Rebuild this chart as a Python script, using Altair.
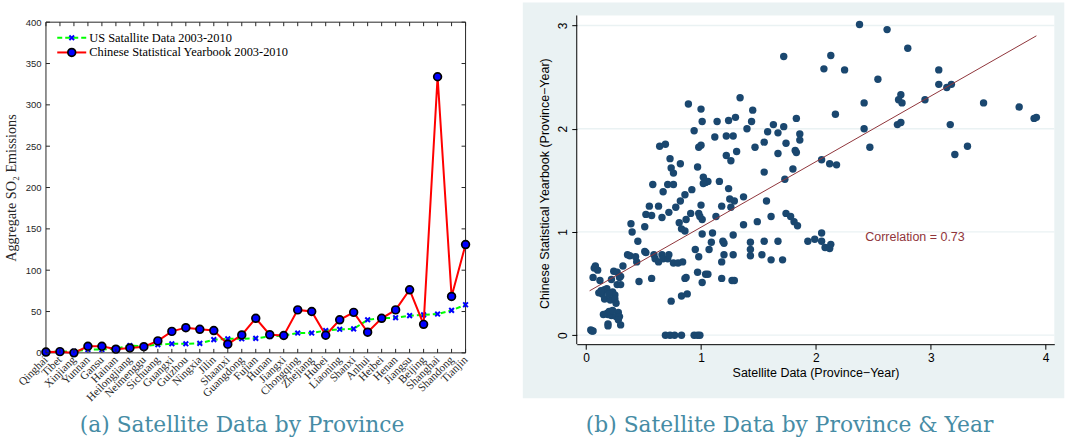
import altair as alt
import pandas as pd

# ---------------- Panel (a) data ----------------
provinces = ["Qinghai", "Tibet", "Xinjiang", "Yunnan", "Gansu", "Hainan", "Heilongjiang",
             "Neimenggu", "Sichuang", "Guangxi", "Guizhou", "Ningxia", "Jilin", "Shaanxi",
             "Guangdong", "Fujian", "Hunan", "Jiangxi", "Chongqing", "Zhejiang", "Hubei",
             "Liaoning", "Shanxi", "Anhui", "Heibei", "Henan", "Jiangsu", "Beijing",
             "Shanghai", "Shandong", "Tianjin"]
satellite = [1, 1.5, 2, 4, 4, 5, 8.8, 8, 10, 11, 11, 11.5, 16, 17, 17, 17.5, 20, 21, 24, 24,
             27, 28.5, 29, 40, 42, 42.5, 45, 46, 47, 51.4, 58.2]
yearbook = [1, 1.5, 0, 8, 8, 4.5, 6, 7.5, 14.5, 26, 30.5, 28.5, 27, 10.5, 21.7, 41.8, 22, 21,
            52, 50, 21.3, 40, 49, 25, 41.8, 52, 76.3, 34.5, 334, 68.3, 131]
y_ticks_a = [0, 50, 100, 150, 200, 250, 300, 350, 400]
legend_labels = ["US Satallite Data 2003-2010", "Chinese Statistical Yearbook 2003-2010"]
caption_a = "(a) Satellite Data by Province"

# ---------------- Panel (b) data ----------------
sat_x = [2.38, 2.62, 2.80, 1.72, 2.13, 2.07, 2.25, 3.07, 2.54, 3.07, 3.14, 3.18, 2.74, 2.72, 2.75,
         2.95, 3.46, 3.77, 3.90, 3.92, 2.42, 2.17, 2.71, 2.74, 3.17, 2.42, 2.47, 3.32, 3.21, 2.05,
         2.12, 2.18, 0.89, 1.00, 1.34, 1.01, 1.14, 1.24, 1.30, 1.45, 1.44, 1.40, 1.83, 1.63, 1.72,
         1.58, 1.67, 1.86, 1.86, 0.94, 1.12, 1.22, 1.28, 1.55, 1.74, 1.47, 0.64, 0.69, 0.98, 1.00,
         1.31, 1.82, 1.83, 1.67, 1.22, 1.26, 0.73, 0.82, 0.74, 0.76, 0.97, 1.80, 1.55, 1.02, 1.04,
         1.06, 1.02, 1.16, 1.73, 0.58, 0.71, 0.76, 1.24, 0.67, 0.92, 0.86, 1.37, 1.25, 1.29, 0.82,
         1.57,
         0.55, 0.52, 0.57, 0.63, 0.72, 0.66, 0.78, 0.81, 0.83, 0.86, 0.87, 0.91, 0.98, 1.00, 1.01,
         0.99, 1.13, 1.18, 1.26, 1.37, 1.49, 1.61, 1.74, 1.78, 1.81, 1.84,
         0.39, 0.40, 0.51, 0.45, 0.36, 0.38, 0.43, 0.44, 0.51, 0.52, 0.59, 0.60, 0.63, 0.66, 0.67,
         0.71, 0.72, 0.76, 0.80, 0.84, 0.86, 0.87, 0.88, 0.83, 0.74, 0.46, 0.57, 0.95, 0.98, 0.97,
         1.01, 1.04, 1.06, 1.01, 1.07, 1.09, 1.10, 1.18, 1.18, 1.19, 1.20, 1.20, 1.28, 1.28, 1.27,
         1.29, 1.43, 1.43, 1.43, 1.53, 1.55, 1.61, 1.67, 1.71, 1.93, 1.99, 2.05, 2.05, 2.08, 2.12,
         2.13,
         0.04, 0.05, 0.06, 0.06, 0.07, 0.08, 0.10, 0.12, 0.11, 0.14, 0.16, 0.18, 0.16, 0.18, 0.19,
         0.19, 0.19, 0.22, 0.21, 0.23, 0.22, 0.24, 0.27, 0.29, 0.30, 0.32, 0.25, 0.25, 0.26, 0.28,
         0.26, 0.29, 0.28, 0.30, 0.27, 0.30, 0.20, 0.23, 0.15, 0.13, 0.20,
         0.69, 0.73, 0.77, 0.83, 0.94, 0.97, 0.99]
cn_y = [3.01, 2.96, 2.78, 2.70, 2.71, 2.58, 2.57, 2.57, 2.48, 2.43, 2.40, 2.43, 2.33, 2.28, 2.25,
        2.28, 2.25, 2.21, 2.10, 2.11, 2.25, 2.14, 2.04, 2.06, 2.04, 2.00, 1.82, 1.83, 1.75, 1.70,
        1.66, 1.65, 2.24, 2.19, 2.30, 2.07, 2.07, 2.08, 2.11, 2.18, 2.07, 2.00, 2.10, 2.04, 2.02,
        1.97, 1.96, 1.95, 1.89, 1.98, 1.92, 1.93, 1.93, 1.87, 1.86, 1.82, 1.83, 1.85, 1.82, 1.84,
        1.78, 1.79, 1.77, 1.76, 1.74, 1.69, 1.71, 1.66, 1.62, 1.57, 1.63, 1.61, 1.58, 1.53, 1.48,
        1.49, 1.47, 1.49, 1.51, 1.46, 1.46, 1.46, 1.42, 1.39, 1.41, 1.36, 1.34, 1.32, 1.30, 1.30,
        1.30,
        1.25, 1.17, 1.16, 1.25, 1.19, 1.14, 1.24, 1.09, 1.03, 1.01, 1.12, 1.18, 1.18, 1.26, 1.12,
        1.15, 1.15, 1.25, 1.24, 1.07, 1.10, 1.15, 1.18, 1.15, 1.10, 1.06,
        1.08, 1.00, 1.05, 0.91, 0.78, 0.77, 0.76, 0.71, 0.81, 0.80, 0.78, 0.74, 0.71, 0.78, 0.74,
        0.74, 0.78, 0.70, 0.70, 0.71, 0.55, 0.56, 0.40, 0.38, 0.33, 0.52, 0.55, 0.83, 0.76, 0.61,
        0.51, 0.59, 0.59, 0.98, 0.83, 0.90, 0.99, 0.55, 0.71, 0.91, 0.89, 0.78, 0.97, 0.78, 0.53,
        0.53, 0.90, 0.83, 0.77, 0.78, 0.91, 0.73, 0.91, 0.73, 0.91, 0.93, 0.99, 0.91, 0.85, 0.84,
        0.88,
        0.05, 0.04, 0.04, 0.56, 0.65, 0.67, 0.63, 0.53, 0.41, 0.40, 0.44, 0.45, 0.35, 0.21, 0.20,
        0.11, 0.09, 0.19, 0.34, 0.42, 0.54, 0.62, 0.61, 0.56, 0.57, 0.67, 0.39, 0.35, 0.31, 0.22,
        0.18, 0.18, 0.15, 0.10, 0.49, 0.49, 0.23, 0.24, 0.20, 0.43, 0.40,
        0.0, 0.0, 0.0, 0.0, 0.0, 0.0, 0.0]
fit_x = [0.03, 3.92]
fit_y = [0.43, 2.90]
corr_x = [2.43]
corr_y = [0.95]
corr_text = ["Correlation = 0.73"]
x_ticks_b = [0, 1, 2, 3, 4]
y_ticks_b = [0, 1, 2, 3]
caption_b = "(b) Satellite Data by Province & Year"

# ---------------- Panel (a) ----------------
W1, H1 = 420, 331
one = pd.DataFrame({"k": [0]})
sat_df = pd.DataFrame({"province": provinces, "value": satellite})
cn_df = pd.DataFrame({"province": provinces, "value": yearbook})
ytick_df = pd.DataFrame({"value": y_ticks_a})
xtick_df = pd.DataFrame({"province": provinces})

AX = "#262626"
XSHAPE = "M-1,-1L1,1M-1,1L1,-1"

X1 = alt.X("province:N", sort=provinces, scale=alt.Scale(type="point", padding=0),
           axis=alt.Axis(title=None, labelAngle=-45, labelAlign="right", labelBaseline="middle",
                         labelFont="Liberation Serif", labelFontSize=11.3, labelColor=AX,
                         ticks=False, domain=False, grid=False, labelPadding=5,
                         labelOverlap=False))
Y1 = alt.Y("value:Q", scale=alt.Scale(domain=[0, 400], nice=False, zero=True),
           axis=alt.Axis(title="Aggregate SO₂ Emissions", values=y_ticks_a,
                         labelFont="Liberation Sans", labelFontSize=9.5, labelColor=AX,
                         ticks=False, domain=False, grid=False, labelPadding=5,
                         titleFont="Liberation Serif", titleFontSize=14.2,
                         titleFontWeight="normal", titleColor=AX, titlePadding=7))

bound_a = alt.Chart(one).mark_rect(opacity=0).encode(
    x=alt.value(-45.7), x2=alt.value(430), y=alt.value(-21.7), y2=alt.value(H1))
frame_a = alt.Chart(one).mark_rect(fillOpacity=0, stroke=AX, strokeWidth=1).encode(
    x=alt.value(0), x2=alt.value(W1), y=alt.value(0), y2=alt.value(H1))

sat_line = alt.Chart(sat_df).mark_line(color="#00FF00", strokeWidth=2, strokeDash=[5, 3]).encode(x=X1, y=Y1)
sat_pts = alt.Chart(sat_df).mark_point(shape=XSHAPE, filled=False, stroke="#0000FF",
                                       strokeWidth=2, size=22, opacity=1).encode(x=X1, y=Y1)
cn_line = alt.Chart(cn_df).mark_line(color="#FF0000", strokeWidth=2).encode(x=X1, y=Y1)
cn_pts = alt.Chart(cn_df).mark_point(shape="circle", filled=True, fill="#0000FF", stroke="#000000",
                                     strokeWidth=1.7, size=60, opacity=1).encode(x=X1, y=Y1)

yt_l = alt.Chart(ytick_df).mark_rule(color=AX, strokeWidth=1).encode(y=Y1, x=alt.value(0), x2=alt.value(4))
yt_r = alt.Chart(ytick_df).mark_rule(color=AX, strokeWidth=1).encode(y=Y1, x=alt.value(W1 - 4), x2=alt.value(W1))
xt_t = alt.Chart(xtick_df).mark_rule(color=AX, strokeWidth=1).encode(x=X1, y=alt.value(0), y2=alt.value(4))
xt_b = alt.Chart(xtick_df).mark_rule(color=AX, strokeWidth=1).encode(x=X1, y=alt.value(H1 - 4), y2=alt.value(H1))

LY1, LY2 = 15.6, 30.3
leg = [
    alt.Chart(one).mark_rule(color="#00FF00", strokeWidth=2, strokeDash=[5, 3]).encode(
        x=alt.value(11.3), x2=alt.value(40.3), y=alt.value(LY1)),
    alt.Chart(one).mark_point(shape=XSHAPE, filled=False, stroke="#0000FF", strokeWidth=2,
                              size=22, opacity=1).encode(x=alt.value(25.8), y=alt.value(LY1)),
    alt.Chart(one).mark_text(align="left", baseline="middle", font="Liberation Serif",
                             fontSize=12.4, color="#000000").encode(
        x=alt.value(43.3), y=alt.value(LY1), text=alt.value(legend_labels[0])),
    alt.Chart(one).mark_rule(color="#FF0000", strokeWidth=2).encode(
        x=alt.value(11.3), x2=alt.value(40.3), y=alt.value(LY2)),
    alt.Chart(one).mark_point(shape="circle", filled=True, fill="#0000FF", stroke="#000000",
                              strokeWidth=1.7, size=60, opacity=1).encode(x=alt.value(25.8), y=alt.value(LY2)),
    alt.Chart(one).mark_text(align="left", baseline="middle", font="Liberation Serif",
                             fontSize=12.4, color="#000000").encode(
        x=alt.value(43.3), y=alt.value(LY2), text=alt.value(legend_labels[1])),
]
cap_a = alt.Chart(one).mark_text(align="center", baseline="middle", font="DejaVu Serif",
                                 fontSize=21.8, color="#468CA5").encode(
    x=alt.value(196.3), y=alt.value(403.3), text=alt.value(caption_a))

left = alt.layer(bound_a, frame_a, sat_line, sat_pts, cn_line, cn_pts, yt_l, yt_r, xt_t, xt_b,
                 *leg, cap_a).properties(width=W1, height=H1)

# ---------------- Panel (b) ----------------
# origin shared with panel (a) at y=21.7; white plot region starts 6.7 px above it
W2, H2 = 478, 322.3
TOPX = -6.7
scat_df = pd.DataFrame({"x": sat_x, "y": cn_y})
fit_df = pd.DataFrame({"x": fit_x, "y": fit_y})
ann_df = pd.DataFrame({"x": corr_x, "y": corr_y, "label": corr_text})
grid_df = pd.DataFrame({"y": y_ticks_b})

X2 = alt.X("x:Q", scale=alt.Scale(domain=[-0.082, 4.076], nice=False, zero=False),
           axis=alt.Axis(title="Satellite Data (Province−Year)", values=x_ticks_b, grid=False,
                         domainColor="#000000", tickColor="#000000", tickSize=5,
                         labelFont="Liberation Sans", labelFontSize=12, labelColor="#000000",
                         labelPadding=3, titleFont="Liberation Sans", titleFontSize=12.5,
                         titleFontWeight="normal", titleColor="#000000", titlePadding=3, zindex=1))
Y2 = alt.Y("y:Q", scale=alt.Scale(domain=[-0.087, 3.032], nice=False, zero=False),
           axis=alt.Axis(title="Chinese Statistical Yearbook (Province−Year)", values=y_ticks_b,
                         grid=False, labelAngle=-90, domain=False, tickColor="#000000",
                         tickSize=5, labelFont="Liberation Sans", labelFontSize=12,
                         labelColor="#000000", labelPadding=2, titleFont="Liberation Sans",
                         titleFontSize=12.5, titleFontWeight="normal", titleColor="#000000",
                         titlePadding=5, zindex=1))

grey_b = alt.Chart(one).mark_rect(fill="#EAF2F3").encode(
    x=alt.value(-54), x2=alt.value(488), y=alt.value(-19.7), y2=alt.value(376.3))
white_b = alt.Chart(one).mark_rect(fill="#FFFFFF").encode(
    x=alt.value(0), x2=alt.value(W2), y=alt.value(TOPX), y2=alt.value(H2))
yline_b = alt.Chart(one).mark_rule(color="#000000", strokeWidth=1).encode(
    x=alt.value(0), y=alt.value(TOPX), y2=alt.value(H2))
grid_b = alt.Chart(grid_df).mark_rule(color="#EAF2F3", strokeWidth=1.3).encode(
    y=Y2, x=alt.value(0), x2=alt.value(W2))
pts_b = alt.Chart(scat_df).mark_circle(size=55, color="#1A476F", opacity=1).encode(x=X2, y=Y2)
fit_b = alt.Chart(fit_df).mark_line(color="#90353B", strokeWidth=1).encode(x=X2, y=Y2)
txt_b = alt.Chart(ann_df).mark_text(align="left", baseline="middle", font="Liberation Sans",
                                    fontSize=12.5, color="#90353B").encode(x=X2, y=Y2, text="label:N")
cap_b = alt.Chart(one).mark_text(align="center", baseline="middle", font="DejaVu Serif",
                                 fontSize=21.8, color="#468CA5").encode(
    x=alt.value(213), y=alt.value(403.3), text=alt.value(caption_b))

right = alt.layer(grey_b, white_b, grid_b, yline_b, pts_b, fit_b, txt_b, cap_b).properties(
    width=W2, height=H2)

chart = alt.hconcat(left, right, spacing=47.3).properties(
    padding=0, background="#FFFFFF").configure_view(strokeWidth=0)

chart.save("out.html", embed_options={"renderer": "svg", "actions": False})
